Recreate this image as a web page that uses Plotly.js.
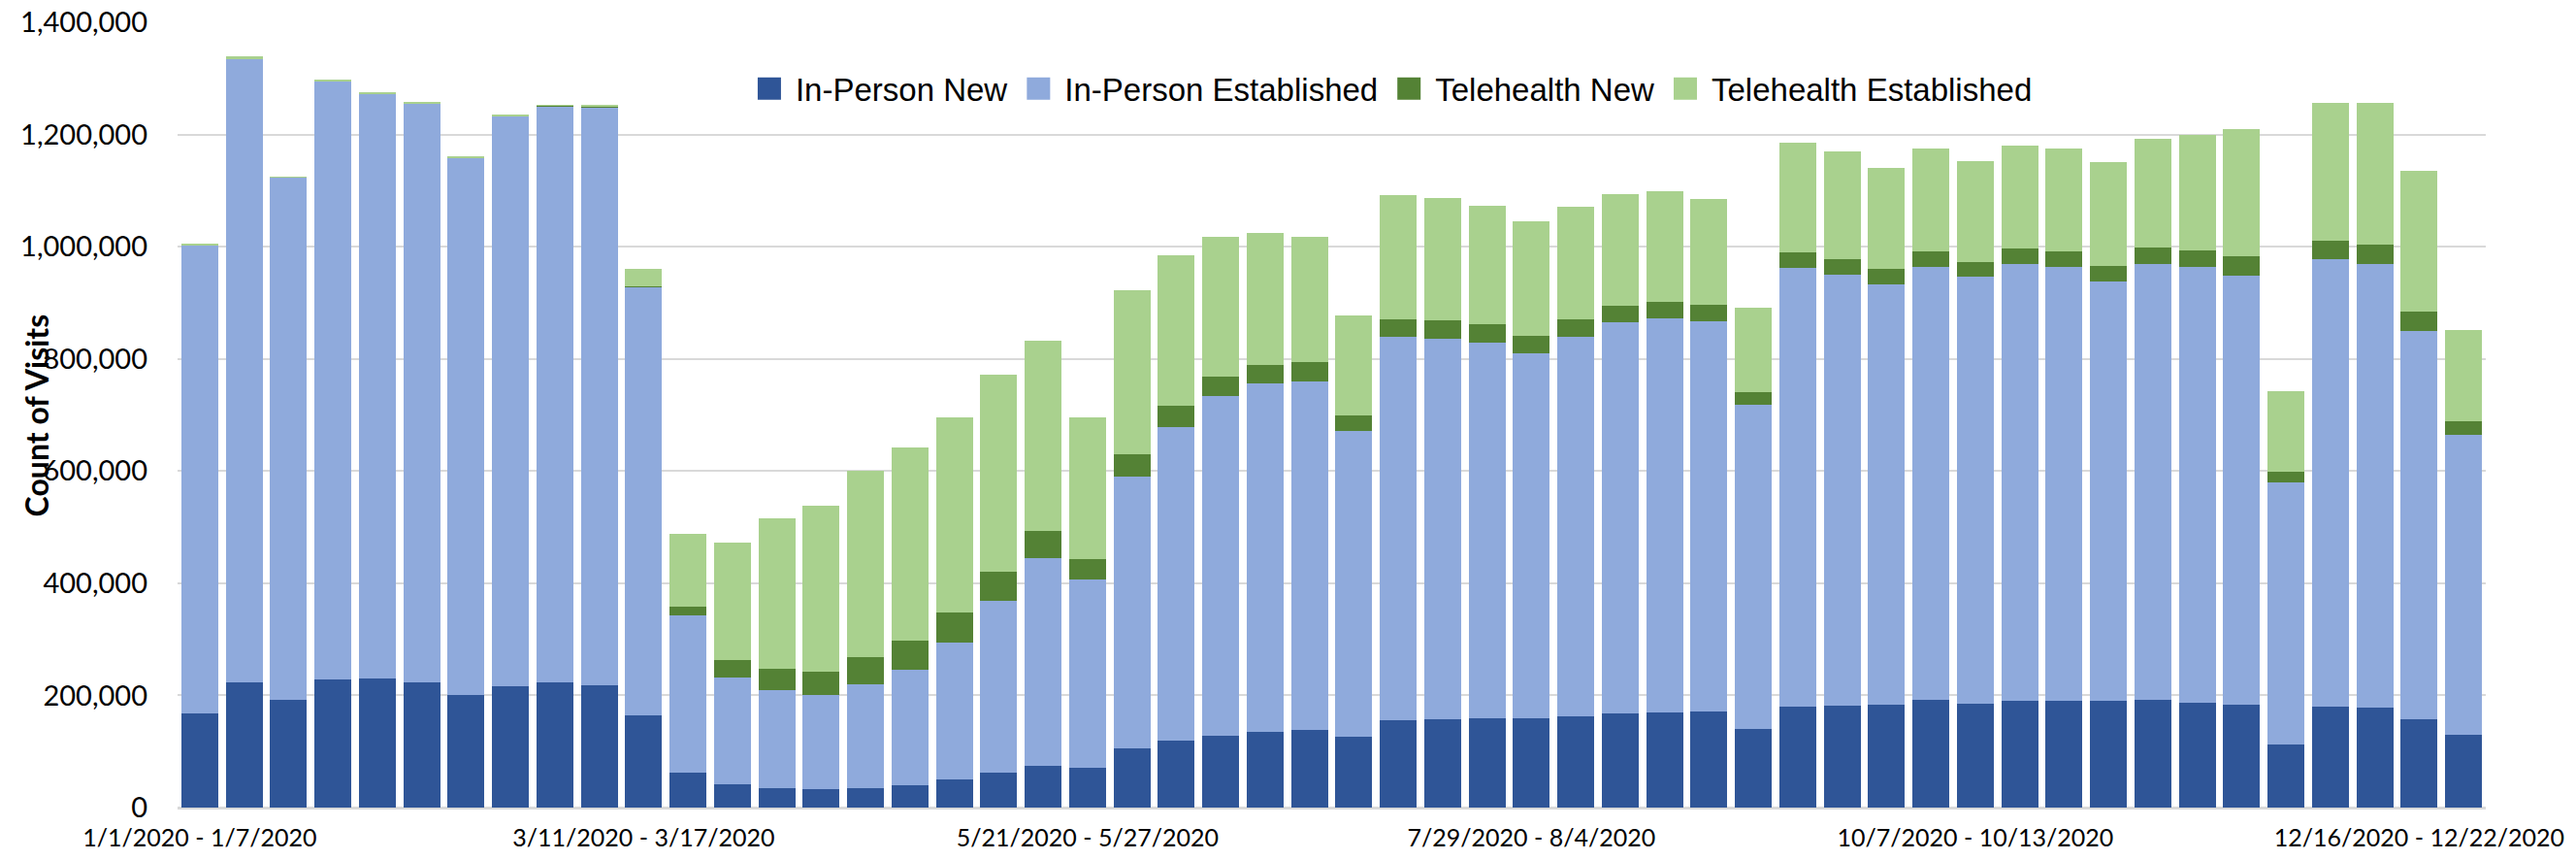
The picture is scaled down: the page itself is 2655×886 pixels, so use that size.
<!DOCTYPE html>
<html>
<head>
<meta charset="utf-8">
<script src="https://cdn.plot.ly/plotly-3.0.1.min.js"></script>
<style>
  html, body { margin: 0; padding: 0; background: #ffffff; }
  #chart { width: 2655px; height: 886px; }
</style>
</head>
<body>
<div id="chart"></div>
<script>
const weeks = [
  "1/1/2020 - 1/7/2020", "1/8/2020 - 1/14/2020", "1/15/2020 - 1/21/2020", "1/22/2020 - 1/28/2020",
  "1/29/2020 - 2/4/2020", "2/5/2020 - 2/11/2020", "2/12/2020 - 2/18/2020", "2/19/2020 - 2/25/2020",
  "2/26/2020 - 3/3/2020", "3/4/2020 - 3/10/2020", "3/11/2020 - 3/17/2020", "3/18/2020 - 3/24/2020",
  "3/25/2020 - 3/31/2020", "4/1/2020 - 4/7/2020", "4/8/2020 - 4/14/2020", "4/15/2020 - 4/21/2020",
  "4/22/2020 - 4/28/2020", "4/29/2020 - 5/5/2020", "5/6/2020 - 5/12/2020", "5/13/2020 - 5/20/2020",
  "5/21/2020 - 5/27/2020", "5/28/2020 - 6/3/2020", "6/4/2020 - 6/10/2020", "6/11/2020 - 6/17/2020",
  "6/18/2020 - 6/24/2020", "6/25/2020 - 7/1/2020", "7/2/2020 - 7/8/2020", "7/9/2020 - 7/15/2020",
  "7/16/2020 - 7/22/2020", "7/23/2020 - 7/28/2020", "7/29/2020 - 8/4/2020", "8/5/2020 - 8/11/2020",
  "8/12/2020 - 8/18/2020", "8/19/2020 - 8/25/2020", "8/26/2020 - 9/1/2020", "9/2/2020 - 9/8/2020",
  "9/9/2020 - 9/15/2020", "9/16/2020 - 9/22/2020", "9/23/2020 - 9/29/2020", "9/30/2020 - 10/6/2020",
  "10/7/2020 - 10/13/2020", "10/14/2020 - 10/20/2020", "10/21/2020 - 10/27/2020", "10/28/2020 - 11/3/2020",
  "11/4/2020 - 11/10/2020", "11/11/2020 - 11/17/2020", "11/18/2020 - 11/24/2020", "11/25/2020 - 12/1/2020",
  "12/2/2020 - 12/8/2020", "12/9/2020 - 12/15/2020", "12/16/2020 - 12/22/2020", "12/23/2020 - 12/29/2020"
];

const shownTicks = [
  "1/1/2020 - 1/7/2020", "3/11/2020 - 3/17/2020", "5/21/2020 - 5/27/2020",
  "7/29/2020 - 8/4/2020", "10/7/2020 - 10/13/2020", "12/16/2020 - 12/22/2020"
];

const inPersonNew = [
  167100, 223600, 192500, 227600, 230500, 222400, 201600, 215500, 222400, 217200,
  164300, 61600, 40800, 34600, 32200, 35100, 39100, 49500, 61600, 74900,
  70200, 104800, 119300, 127300, 134200, 138900, 126800, 155000, 157900, 158400,
  158400, 161900, 167100, 168800, 170500, 140600, 179200, 182100, 182600, 191300,
  185000, 189600, 189600, 189600, 191300, 186100, 182600, 111700, 179200, 177400,
  156700, 129000
];

const inPersonEstablished = [
  834100, 1110800, 929800, 1066400, 1041600, 1031800, 955300, 1016900, 1027900, 1030700,
  762600, 281300, 190900, 175200, 167700, 184500, 207000, 245500, 306700, 370100,
  336700, 484900, 559100, 605900, 622000, 621300, 544700, 683700, 677900, 670500,
  650900, 677900, 698100, 703300, 696400, 577600, 782300, 768300, 750000, 772400,
  760900, 779300, 774100, 748200, 778200, 777600, 766100, 467600, 798400, 792100,
  693400, 535600
];

const telehealthNew = [
  500, 500, 400, 500, 400, 400, 400, 500, 500, 700,
  2800, 15600, 30500, 38000, 42700, 49000, 51900, 53100, 51900, 48900,
  36300, 40800, 38000, 35100, 33400, 34100, 27100, 31700, 32800, 32300,
  31700, 30600, 29900, 29900, 29400, 23000, 28200, 27700, 27200, 27700,
  26500, 27700, 27700, 28200, 28800, 30000, 34100, 20100, 32800, 33500,
  34600, 24200
];

const telehealthEstablished = [
  3600, 4100, 2400, 3500, 3100, 3100, 3100, 2900, 2900, 5100,
  31100, 129700, 210400, 267500, 295200, 332000, 344100, 347100, 351600, 338400,
  252000, 292300, 267600, 249600, 234700, 222500, 178700, 221800, 217400, 211000,
  203500, 200000, 198300, 196100, 189000, 150400, 195900, 190900, 179800, 183300,
  181000, 183300, 183300, 184500, 194200, 206400, 227000, 143000, 246800, 253500,
  249700, 162500
];

const seriesNames = ["In-Person New", "In-Person Established", "Telehealth New", "Telehealth Established"];
const seriesColors = ["#2F5597", "#8FAADC", "#548235", "#A9D18E"];
const seriesValues = [inPersonNew, inPersonEstablished, telehealthNew, telehealthEstablished];

const traces = seriesValues.map((vals, i) => ({
  type: "bar",
  name: seriesNames[i],
  x: weeks,
  y: vals,
  marker: { color: seriesColors[i], line: { width: 0 } },
  hoverinfo: "skip"
}));

const layout = {
  width: 2655,
  height: 886,
  barmode: "stack",
  bargap: 0.17,
  paper_bgcolor: "#ffffff",
  plot_bgcolor: "#ffffff",
  margin: { l: 183, r: 93, t: 23, b: 54, pad: 0 },
  showlegend: true,
  legend: {
    orientation: "h",
    x: 0.5254,
    xanchor: "center",
    y: 0.9156,
    yanchor: "middle",
    itemwidth: 44,
    font: { family: "Liberation Sans, Arial, sans-serif", size: 33, color: "#000000" },
    bgcolor: "rgba(255,255,255,0)",
    traceorder: "normal",
    itemclick: false
  },
  xaxis: {
    type: "category",
    categoryorder: "array",
    categoryarray: weeks,
    tickmode: "array",
    tickvals: shownTicks,
    ticktext: shownTicks,
    tickangle: 0,
    ticks: "",
    showgrid: false,
    showline: false,
    zeroline: false,
    tickfont: { family: "Lato, Liberation Sans, sans-serif", size: 25, color: "#000000" },
    ticklabelstandoff: 14,
    automargin: false
  },
  yaxis: {
    range: [0, 1400000],
    dtick: 200000,
    tick0: 0,
    tickformat: ",d",
    ticks: "",
    showgrid: true,
    gridcolor: "#d9d9d9",
    gridwidth: 2,
    zeroline: true,
    zerolinecolor: "#d9d9d9",
    zerolinewidth: 3,
    showline: false,
    tickfont: { family: "Lato, Liberation Sans, sans-serif", size: 29, color: "#000000" },
    ticklabelstandoff: 30,
    automargin: false
  },
  annotations: [{
    text: "<b>Count of Visits</b>",
    xref: "paper",
    yref: "paper",
    x: -0.061,
    y: 0.5,
    xanchor: "center",
    yanchor: "middle",
    textangle: -90,
    showarrow: false,
    font: { family: "Lato, Liberation Sans, sans-serif", size: 32, color: "#000000" }
  }]
};

Plotly.newPlot("chart", traces, layout, { staticPlot: true, displayModeBar: false }).then(() => {
  document.querySelectorAll("#chart .legend .legendpoints path").forEach(p => {
    p.setAttribute("d", "M12,11.5H-12V-11.5H12Z");
  });
});
</script>
</body>
</html>
